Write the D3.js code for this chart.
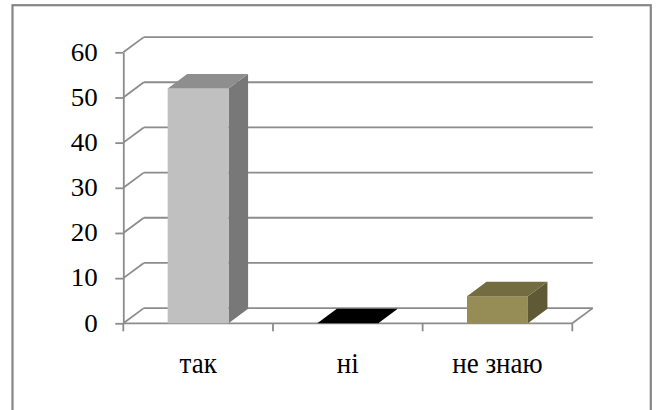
<!DOCTYPE html>
<html>
<head>
<meta charset="utf-8">
<script src="https://cdn.jsdelivr.net/npm/d3@7"></script>
<style>
  html, body { margin: 0; padding: 0; background: #fff; }
  svg { display: block; }
</style>
</head>
<body>
<svg id="chart" width="657" height="410"></svg>
<script>
// Survey answers and their counts
const categories = ["так", "ні", "не знаю"];
const values = [52, 0, 6];
const yTicks = [0, 10, 20, 30, 40, 50, 60];

// Face shades per column: front, top, side
const frontColors = ["#c0c0c0", "#000000", "#958c56"];
const topColors   = ["#8e8e8e", "#000000", "#736c41"];
const sideColors  = ["#787878", "#000000", "#5f5935"];

const svg = d3.select("#chart");
const FONT = '"Liberation Serif"';
const GRID = "#8c8c8c";

// Plot floor/front geometry and the 3D depth offsets
const plot = { left: 123.3, right: 572.3, top: 52.3, bottom: 323.3 };
const wall = { dx: 20.5, dy: -15.2 };
const barDepth = { dx: 19.5, dy: -14.5 };

const y = d3.scaleLinear().domain([0, 60]).range([plot.bottom, plot.top]);
const x = d3.scaleBand()
  .domain(categories)
  .range([plot.left, plot.right])
  .paddingInner(0.593)
  .paddingOuter(0.2965);

// Outer frame of the chart area
svg.append("rect")
  .attr("x", 12.5).attr("y", 5.2)
  .attr("width", 638.3).attr("height", 430)
  .attr("fill", "none")
  .attr("stroke", "#868686")
  .attr("stroke-width", 2.2);

const grid = svg.append("g")
  .attr("stroke", GRID)
  .attr("stroke-width", 1.8)
  .attr("fill", "none");

// Back wall gridlines and the side wall diagonals leading to them
yTicks.forEach(v => {
  const yy = y(v);
  grid.append("line")
    .attr("x1", plot.left + wall.dx).attr("y1", yy + wall.dy)
    .attr("x2", plot.right + wall.dx).attr("y2", yy + wall.dy);
  grid.append("line")
    .attr("x1", plot.left).attr("y1", yy)
    .attr("x2", plot.left + wall.dx).attr("y2", yy + wall.dy);
});

// Floor: front edge and right diagonal
grid.append("line")
  .attr("x1", plot.left).attr("y1", plot.bottom)
  .attr("x2", plot.right).attr("y2", plot.bottom);
grid.append("line")
  .attr("x1", plot.right).attr("y1", plot.bottom)
  .attr("x2", plot.right + wall.dx).attr("y2", plot.bottom + wall.dy);

// Category boundary ticks below the floor
const edges = d3.range(categories.length + 1).map(i => plot.left + i * x.step());
grid.selectAll("line.edge")
  .data(edges)
  .join("line")
  .attr("class", "edge")
  .attr("x1", d => d).attr("x2", d => d)
  .attr("y1", plot.bottom).attr("y2", plot.bottom + 8);

// Value axis line and ticks (labels drawn separately below)
const yAxis = svg.append("g")
  .attr("transform", `translate(${plot.left},0)`)
  .call(d3.axisLeft(y).tickValues(yTicks).tickSize(8).tickSizeOuter(0).tickFormat(""));
yAxis.selectAll("text").remove();
yAxis.selectAll("path, line").attr("stroke", GRID).attr("stroke-width", 1.8);

// Value labels, slightly widened
svg.append("g").selectAll("text")
  .data(yTicks)
  .join("text")
  .attr("transform", d => `translate(${plot.left - 25.6},${y(d)}) scale(1.08,1)`)
  .attr("dy", "0.33em")
  .attr("text-anchor", "end")
  .attr("fill", "#000")
  .style("font-family", FONT)
  .style("font-size", "25px")
  .text(d => d);

// Category labels, slightly heightened
svg.append("g").selectAll("text")
  .data(categories)
  .join("text")
  .attr("transform", d => `translate(${x(d) + x.bandwidth() / 2},${plot.bottom + 50}) scale(1,1.12)`)
  .attr("text-anchor", "middle")
  .attr("fill", "#000")
  .style("font-family", FONT)
  .style("font-size", "27px")
  .text(d => d);

// 3D columns: front face, top face, right side face
const bars = svg.append("g")
  .selectAll("g.bar")
  .data(categories.map((c, i) => ({ c, v: values[i], i })))
  .join("g")
  .attr("class", "bar");

bars.each(function (d) {
  const g = d3.select(this);
  const x0 = x(d.c), w = x.bandwidth();
  const yt = y(d.v), yb = y(0);
  const { dx, dy } = barDepth;
  g.append("polygon")
    .attr("points", [[x0 + w, yt], [x0 + w + dx, yt + dy], [x0 + w + dx, yb + dy], [x0 + w, yb]].join(" "))
    .attr("fill", sideColors[d.i]);
  g.append("rect")
    .attr("x", x0).attr("y", yt)
    .attr("width", w).attr("height", yb - yt)
    .attr("fill", frontColors[d.i]);
  g.append("polygon")
    .attr("points", [[x0, yt], [x0 + dx, yt + dy], [x0 + w + dx, yt + dy], [x0 + w, yt]].join(" "))
    .attr("fill", topColors[d.i]);
});
</script>
</body>
</html>
